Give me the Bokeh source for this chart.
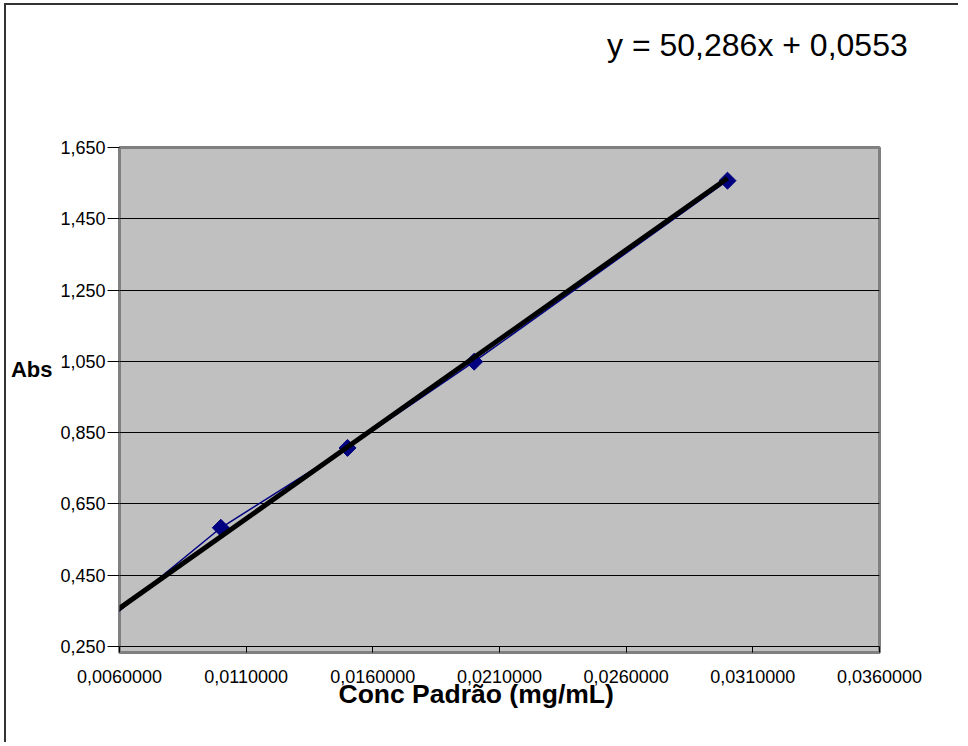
import numpy as np
from bokeh.plotting import figure
from bokeh.models import Range1d, FixedTicker, Title, LinearAxis
from bokeh.embed import file_html
from bokeh.resources import INLINE

# ---- data ----
conc = [0.0, 0.010, 0.015, 0.020, 0.030]
absorb = [0.0, 0.583, 0.807, 1.049, 1.557]
slope = 50.286
intercept = 0.0553
equation_text = "y = 50,286x + 0,0553"
x_ticks = [0.006, 0.011, 0.016, 0.021, 0.026, 0.031, 0.036]
x_tick_labels = ["0,0060000", "0,0110000", "0,0160000", "0,0210000",
                 "0,0260000", "0,0310000", "0,0360000"]
y_ticks = [0.25, 0.45, 0.65, 0.85, 1.05, 1.25, 1.45, 1.65]
y_tick_labels = ["0,250", "0,450", "0,650", "0,850", "1,050", "1,250", "1,450", "1,650"]
x_title = "Conc Padrão (mg/mL)"
y_title = "Abs"
ABS_LABEL_Y = 1.027    # vertical placement of the "Abs" caption
EQ_LABEL_X = 0.03118   # horizontal centre of the trendline equation

FONT = "Liberation Sans"

p = figure(frame_width=760, frame_height=505,
           x_range=Range1d(0.006, 0.036), y_range=Range1d(0.233, 1.65),
           output_backend="svg", toolbar_location=None,
           min_border_left=113, min_border_right=79,
           min_border_top=142, min_border_bottom=90,
           background_fill_color="#C0C0C0", border_fill_color="white",
           outline_line_color="#808080", outline_line_width=3)
p.styles = {"border-left": "2px solid #333333", "border-top": "2px solid #333333",
            "margin-left": "4px", "margin-top": "3px"}

# axes
p.xaxis.ticker = FixedTicker(ticks=x_ticks)
p.xaxis.major_label_overrides = dict(zip(x_ticks, x_tick_labels))
p.xaxis.major_tick_in = 6
p.xaxis.major_tick_out = 0
p.xaxis.major_label_standoff = 17
p.yaxis.ticker = FixedTicker(ticks=y_ticks)
p.yaxis.major_label_overrides = dict(zip(y_ticks, y_tick_labels))
p.yaxis.major_tick_in = 0
p.yaxis.major_tick_out = 12
p.yaxis.major_label_standoff = 2
for ax in (p.xaxis, p.yaxis):
    ax.axis_line_color = None
    ax.minor_tick_line_color = None
    ax.major_tick_line_color = "black"
    ax.major_tick_line_width = 1
    ax.major_label_text_font = FONT
    ax.major_label_text_font_size = "18px"
    ax.major_label_text_color = "black"

p.xgrid.grid_line_color = None
p.ygrid.ticker = FixedTicker(ticks=y_ticks)
p.ygrid.grid_line_color = "black"
p.ygrid.grid_line_width = 1

# "Abs" caption, horizontal, left of the value axis
abs_axis = LinearAxis(ticker=FixedTicker(ticks=[ABS_LABEL_Y]),
                      major_label_overrides={ABS_LABEL_Y: y_title},
                      axis_line_color=None, major_tick_line_color=None,
                      minor_tick_line_color=None, major_tick_in=0, major_tick_out=0,
                      major_label_standoff=5,
                      major_label_text_font=FONT, major_label_text_font_size="22px",
                      major_label_text_font_style="bold", major_label_text_color="black")
p.add_layout(abs_axis, "left")

# trendline equation, above the plot area
eq_axis = LinearAxis(ticker=FixedTicker(ticks=[EQ_LABEL_X]),
                     major_label_overrides={EQ_LABEL_X: equation_text},
                     axis_line_color=None, major_tick_line_color=None,
                     minor_tick_line_color=None, major_tick_in=0, major_tick_out=0,
                     major_label_standoff=85,
                     major_label_text_font=FONT, major_label_text_font_size="32px",
                     major_label_text_color="black")
p.add_layout(eq_axis, "above")

# series
p.line(conc, absorb, line_color="#000080", line_width=1.5)
p.scatter(conc, absorb, marker="square", size=12, angle=np.pi / 4,
          fill_color="#000080", line_color="#000080")

# trendline
tx = np.array([min(conc), max(conc)])
ty = slope * tx + intercept
p.line(tx, ty, line_color="black", line_width=5)

# axis title below
p.add_layout(Title(text=x_title, align="left", offset=219, standoff=-17,
                   text_font=FONT, text_font_size="26.5px", text_font_style="bold",
                   text_color="black"), "below")

open("out.html", "w").write(file_html(p, INLINE))
